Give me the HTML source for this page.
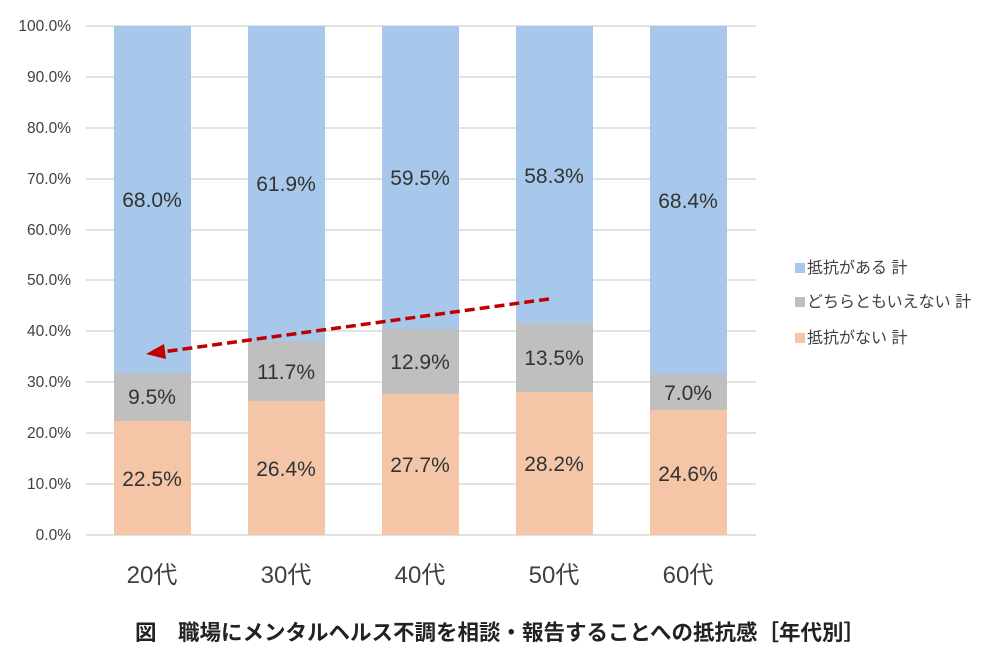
<!DOCTYPE html>
<html><head><meta charset="utf-8"><style>
body{margin:0;background:#fff;}
svg{display:block;font-family:"Liberation Sans","Noto Sans CJK JP",sans-serif;}
</style></head><body>
<svg width="1000" height="668" viewBox="0 0 1000 668">
<g stroke="#d9d9d9" stroke-width="1.5">
<line x1="86" x2="756" y1="26" y2="26"/><line x1="86" x2="756" y1="77" y2="77"/>
<line x1="86" x2="756" y1="128" y2="128"/><line x1="86" x2="756" y1="179" y2="179"/>
<line x1="86" x2="756" y1="230" y2="230"/><line x1="86" x2="756" y1="280" y2="280"/>
<line x1="86" x2="756" y1="331" y2="331"/><line x1="86" x2="756" y1="382" y2="382"/>
<line x1="86" x2="756" y1="433" y2="433"/><line x1="86" x2="756" y1="484" y2="484"/>
<line x1="86" x2="756" y1="535" y2="535"/>
</g>
<g font-size="15.5" fill="#404040" text-anchor="end">
<text x="71" y="31">100.0%</text><text x="71" y="82">90.0%</text><text x="71" y="133">80.0%</text>
<text x="71" y="184">70.0%</text><text x="71" y="235">60.0%</text><text x="71" y="285">50.0%</text>
<text x="71" y="336">40.0%</text><text x="71" y="387">30.0%</text><text x="71" y="438">20.0%</text>
<text x="71" y="489">10.0%</text><text x="71" y="540">0.0%</text>
</g>
<g>
<rect x="114" y="26" width="77" height="347" fill="#a7c8ea"/>
<rect x="114" y="373" width="77" height="48" fill="#bfbfbf"/>
<rect x="114" y="421" width="77" height="114" fill="#f5c5a8"/>
<rect x="248" y="26" width="77" height="315" fill="#a7c8ea"/>
<rect x="248" y="341" width="77" height="60" fill="#bfbfbf"/>
<rect x="248" y="401" width="77" height="134" fill="#f5c5a8"/>
<rect x="382" y="26" width="77" height="303" fill="#a7c8ea"/>
<rect x="382" y="329" width="77" height="65" fill="#bfbfbf"/>
<rect x="382" y="394" width="77" height="141" fill="#f5c5a8"/>
<rect x="516" y="26" width="77" height="297" fill="#a7c8ea"/>
<rect x="516" y="323" width="77" height="69" fill="#bfbfbf"/>
<rect x="516" y="392" width="77" height="143" fill="#f5c5a8"/>
<rect x="650" y="26" width="77" height="348" fill="#a7c8ea"/>
<rect x="650" y="374" width="77" height="36" fill="#bfbfbf"/>
<rect x="650" y="410" width="77" height="125" fill="#f5c5a8"/>
</g>
<g font-size="21" fill="#333" text-anchor="middle">
<text x="152" y="207">68.0%</text><text x="152" y="404">9.5%</text><text x="152" y="486">22.5%</text>
<text x="286" y="191">61.9%</text><text x="286" y="379">11.7%</text><text x="286" y="476">26.4%</text>
<text x="420" y="185">59.5%</text><text x="420" y="369">12.9%</text><text x="420" y="472">27.7%</text>
<text x="554" y="183">58.3%</text><text x="554" y="365">13.5%</text><text x="554" y="471">28.2%</text>
<text x="688" y="208">68.4%</text><text x="688" y="400">7.0%</text><text x="688" y="481">24.6%</text>
</g>
<line x1="549" y1="299" x2="162" y2="352" stroke="#c00000" stroke-width="3.5" stroke-dasharray="10,5"/>
<polygon points="146,354 164,344 166,359" fill="#c00000"/>
<g font-size="24" fill="#404040" text-anchor="middle">
<text x="152" y="583">20代</text><text x="286" y="583">30代</text><text x="420" y="583">40代</text>
<text x="554" y="583">50代</text><text x="688" y="583">60代</text>
</g>
<g font-size="16" fill="#404040">
<rect x="795" y="263" width="10" height="10" fill="#a7c8ea"/><text x="807" y="273">抵抗がある 計</text>
<rect x="795" y="297" width="10" height="10" fill="#bfbfbf"/><text x="807" y="307">どちらともいえない 計</text>
<rect x="795" y="333" width="10" height="10" fill="#f5c5a8"/><text x="807" y="343">抵抗がない 計</text>
</g>
<text x="500" y="640" font-size="21.5" font-weight="bold" fill="#222" text-anchor="middle">図　職場にメンタルヘルス不調を相談・報告することへの抵抗感［年代別］</text>
</svg>
</body></html>
